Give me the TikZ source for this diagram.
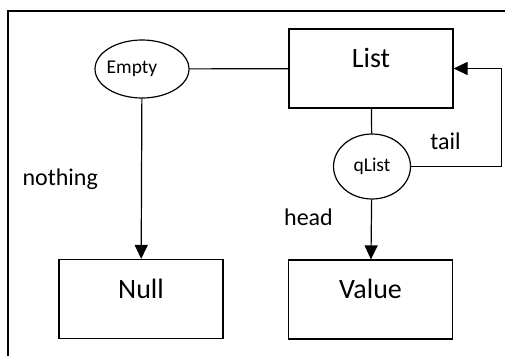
\documentclass[tikz,border=0pt]{standalone}
\usepackage{fontspec}
\setmainfont{Carlito}
\usepackage{tikz}
\usetikzlibrary{arrows.meta}
\usetikzlibrary{shapes.geometric}
\tikzstyle{frame}=[line width=1.2pt]
\tikzstyle{box}=[draw,line width=1.2pt,rectangle,minimum width=164pt,minimum height=79pt,inner sep=0pt,text height=16pt,text depth=18pt,font=\fontsize{28}{30}\selectfont]
\tikzstyle{oval}=[draw,line width=1.2pt,ellipse,inner sep=0pt,font=\fontsize{19.5}{21}\selectfont]
\tikzstyle{lbl}=[inner sep=0pt,font=\fontsize{24}{26}\selectfont]
\tikzstyle{ln}=[line width=1.2pt]
\tikzstyle{arr}=[line width=1.2pt,-{Triangle[length=14pt,width=13pt]}]

\begin{document}
\begin{tikzpicture}[x=1pt,y=-1pt]
	\useasboundingbox (0,0) rectangle (505,356);
	\draw[frame] (505,11) -- (8,11) -- (8,356);
	\node[oval,minimum width=94pt,minimum height=58pt,label={[inner sep=0pt,font=\fontsize{19.5}{21}\selectfont,xshift=-10pt]center:Empty}] (empty) at (142,69) {};
	\node[box] (list) at (371,68.5) {List};
	\node[oval,minimum width=77pt,minimum height=65pt] (qlist) at (372,166.5) {qList};
	\node[box] (null) at (141,299) {Null};
	\node[box] (value) at (370.5,299.5) {Value};
	\coordinate (turn) at ([xshift=48pt]list.east);
	\draw[ln] (empty) -- (list);
	\draw[ln] (list) -- (qlist);
	\draw[arr] (empty) --node[lbl,left=43pt]{nothing} (null);
	\draw[arr] (qlist) --node[lbl,pos=.3,left=38pt]{head} (value);
	\draw[arr] (qlist.east) -| node[lbl,pos=.19,above=16pt]{tail} (turn) -- (list.east);
\end{tikzpicture}
\end{document}
